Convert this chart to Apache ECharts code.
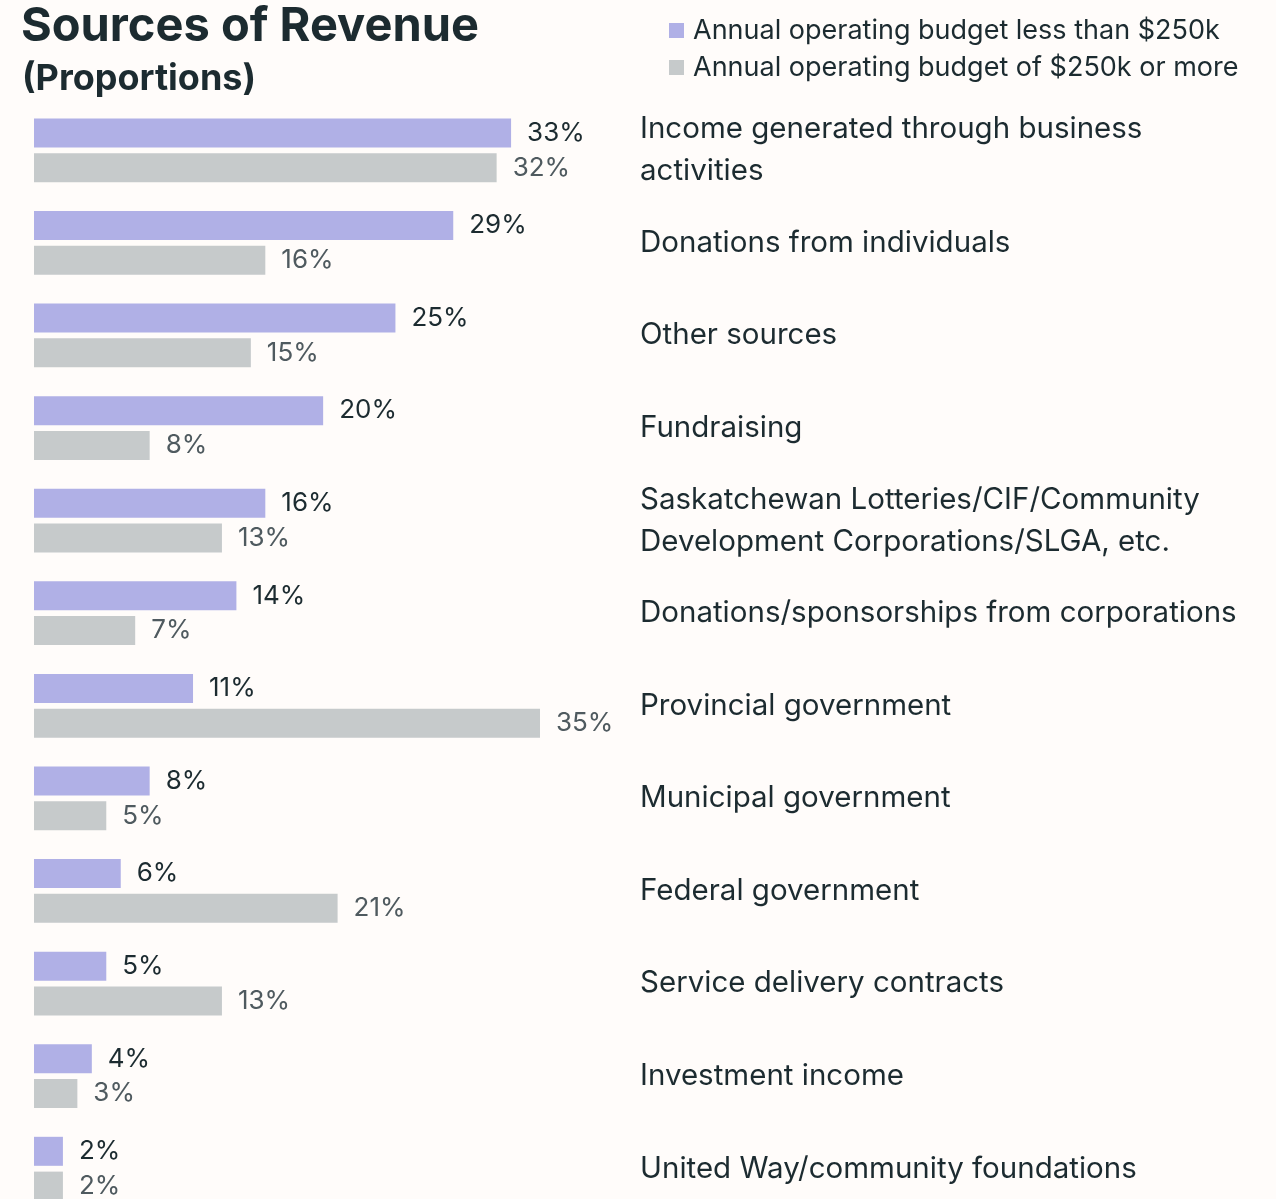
<!DOCTYPE html>
<html>
<head>
<meta charset="utf-8">
<script src="https://cdn.jsdelivr.net/npm/echarts@6/dist/echarts.min.js"></script>
<style>
  html, body { margin: 0; padding: 0; background: #fffcfa; overflow: hidden; }
  /* taller than the window so the last row can run off the bottom edge like the original */
  #chart { width: 1276px; height: 1230px; }
</style>
</head>
<body>
<div id="chart"></div>
<script>
// categories, top to bottom
const categories = [
  'Income generated through business\nactivities',
  'Donations from individuals',
  'Other sources',
  'Fundraising',
  'Saskatchewan Lotteries/CIF/Community\nDevelopment Corporations/SLGA, etc.',
  'Donations/sponsorships from corporations',
  'Provincial government',
  'Municipal government',
  'Federal government',
  'Service delivery contracts',
  'Investment income',
  'United Way/community foundations'
];
const seriesNames = ['Annual operating budget less than $250k', 'Annual operating budget of $250k or more'];
const smallBudget = [33, 29, 25, 20, 16, 14, 11, 8, 6, 5, 4, 2];
const largeBudget = [32, 16, 15, 8, 13, 7, 35, 5, 21, 13, 3, 2];

const font = 'Inter, "Noto Sans", sans-serif';
const chart = echarts.init(document.getElementById('chart'));

chart.setOption({
  backgroundColor: '#fffcfa',
  textStyle: { fontFamily: font },
  title: [
    { text: 'Sources of Revenue', left: 16, top: -2,
      textStyle: { fontSize: 47, fontWeight: 'bold', color: '#1c2b30', fontFamily: font } },
    { text: '(Proportions)', left: 17, top: 56,
      textStyle: { fontSize: 36, fontWeight: 'bold', color: '#1c2b30', fontFamily: font } }
  ],
  legend: {
    orient: 'vertical',
    left: 664, top: 12,
    itemWidth: 15, itemHeight: 15, itemGap: 10,
    icon: 'rect',
    textStyle: { fontSize: 27, color: '#1c2b30', fontFamily: font, padding: [0, 0, 0, 4] },
    data: seriesNames
  },
  grid: { left: 34, top: 104, width: 506, height: 1111, containLabel: false },
  xAxis: {
    type: 'value', min: 0, max: 35,
    show: false
  },
  yAxis: {
    type: 'category',
    inverse: true,
    data: categories,
    position: 'right',
    axisLine: { show: false },
    axisTick: { show: false },
    axisLabel: {
      margin: 100, align: 'left',
      fontSize: 29.5, lineHeight: 42, color: '#1c2b30', fontFamily: font
    }
  },
  series: [
    {
      name: seriesNames[0], type: 'bar', data: smallBudget,
      barWidth: 29, barGap: '20%',
      itemStyle: { color: '#b0b0e6' },
      label: { show: true, position: 'right', distance: 16, formatter: '{c}%',
        fontSize: 26, color: '#1c2b30', fontFamily: font }
    },
    {
      name: seriesNames[1], type: 'bar', data: largeBudget,
      barWidth: 29,
      itemStyle: { color: '#c6cacb' },
      label: { show: true, position: 'right', distance: 16, formatter: '{c}%',
        fontSize: 26, color: '#4f5a5f', fontFamily: font }
    }
  ]
});
</script>
</body>
</html>
